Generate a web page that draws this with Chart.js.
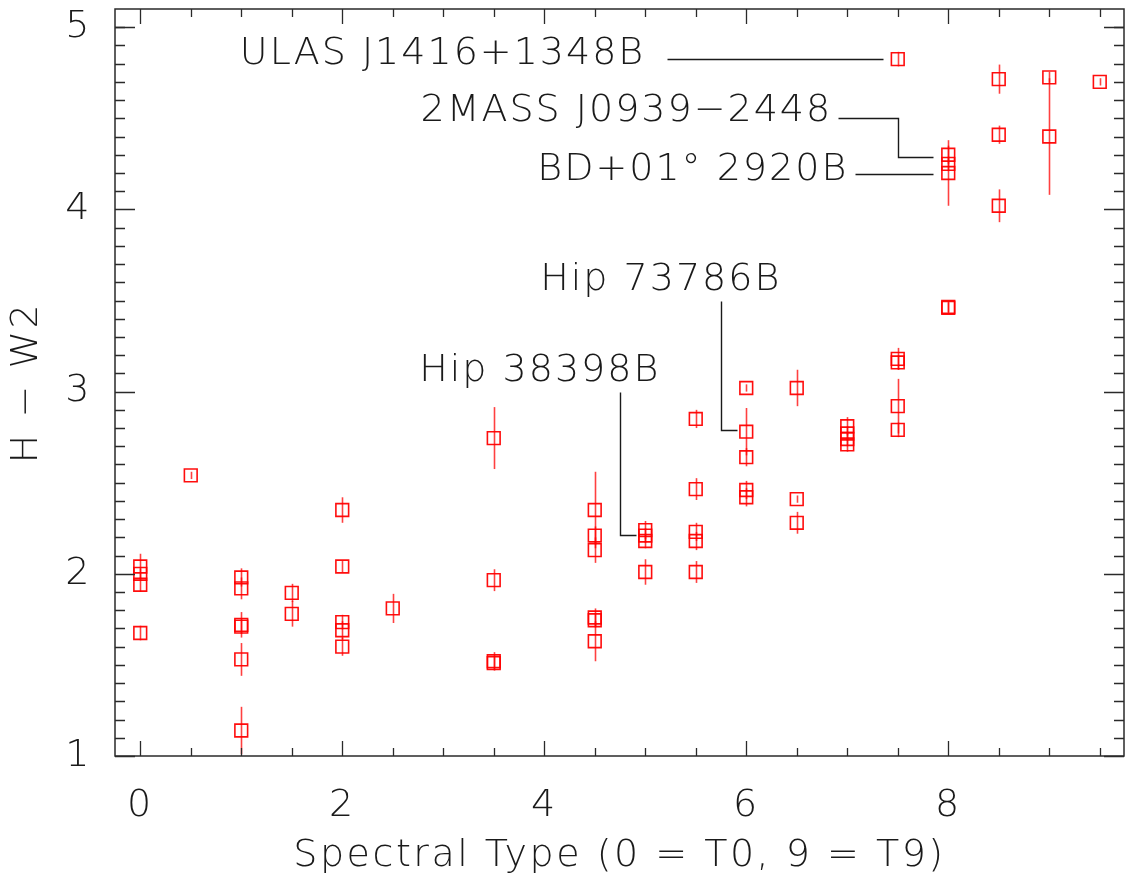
<!DOCTYPE html>
<html>
<head>
<meta charset="utf-8">
<script src="https://cdn.jsdelivr.net/npm/chart.js@4.4.1/dist/chart.umd.min.js"></script>
<style>
  html, body { margin: 0; padding: 0; background: #fff; }
  #cor { display: block; }
</style>
</head>
<body>
<canvas id="cor" width="1125" height="876"></canvas>
<script>
// Tipos espectrais (0 = T0, 9 = T9)
const tipoEspectral = [
  0, 0, 0, 0,
  0.5,
  1, 1, 1, 1, 1, 1,
  1.5, 1.5,
  2, 2, 2, 2, 2,
  2.5,
  3.5, 3.5, 3.5, 3.5,
  4.5, 4.5, 4.5, 4.5, 4.5, 4.5,
  5, 5, 5, 5,
  5.5, 5.5, 5.5, 5.5, 5.5,
  6, 6, 6, 6, 6,
  6.5, 6.5, 6.5,
  7, 7, 7, 7,
  7.5, 7.5, 7.5, 7.5, 7.5,
  8, 8, 8, 8, 8,
  8.5, 8.5, 8.5,
  9, 9,
  9.5
];

// Cor H - W2
const corHW2 = [
  2.04, 2.00, 1.94, 1.675,
  2.54,
  1.98, 1.92, 1.72, 1.71, 1.53, 1.14,
  1.895, 1.78,
  2.35, 2.04, 1.735, 1.69, 1.60,
  1.81,
  2.745, 1.965, 1.52, 1.51,
  2.35, 2.21, 2.13, 1.76, 1.745, 1.63,
  2.24, 2.21, 2.18, 2.01,
  2.85, 2.465, 2.23, 2.18, 2.01,
  3.02, 2.78, 2.64, 2.46, 2.42,
  3.02, 2.41, 2.28,
  2.81, 2.77, 2.74, 2.71,
  4.825, 3.18, 3.16, 2.92, 2.79,
  4.30, 4.25, 4.20, 3.46, 3.465,
  4.715, 4.41, 4.02,
  4.725, 4.40,
  4.70
];

// Incerteza de H - W2
const erroHW2 = [
  0.07, 0.03, 0.04, 0.04,
  0.02,
  0.05, 0.06, 0.07, 0.04, 0.09, 0.13,
  0.05, 0.07,
  0.07, 0.03, 0.04, 0.05, 0.05,
  0.08,
  0.17, 0.06, 0.05, 0.04,
  0.21, 0.05, 0.07, 0.05, 0.04, 0.11,
  0.05, 0.04, 0.04, 0.07,
  0.05, 0.06, 0.05, 0.05, 0.06,
  0.02, 0.13, 0.05, 0.05, 0.05,
  0.10, 0.02, 0.06,
  0.05, 0.04, 0.04, 0.04,
  0.04, 0.06, 0.04, 0.15, 0.04,
  0.05, 0.04, 0.18, 0.03, 0.03,
  0.08, 0.05, 0.09,
  0.03, 0.32,
  0.02
];

// Marcas dos eixos
const ticksX = [0, 2, 4, 6, 8];
const ticksXMenores = [0.5, 1, 1.5, 2.5, 3, 3.5, 4.5, 5, 5.5, 6.5, 7, 7.5, 8.5, 9, 9.5];
const ticksY = [1, 2, 3, 4, 5];
const ticksYMenores = [1.1, 1.2, 1.3, 1.4, 1.5, 1.6, 1.7, 1.8, 1.9,
  2.1, 2.2, 2.3, 2.4, 2.5, 2.6, 2.7, 2.8, 2.9,
  3.1, 3.2, 3.3, 3.4, 3.5, 3.6, 3.7, 3.8, 3.9,
  4.1, 4.2, 4.3, 4.4, 4.5, 4.6, 4.7, 4.8, 4.9, 5.0];

// Objetos identificados: texto, ponto de ancoragem (borda direita do texto) e linha guia
const nomesObjetos = ['ULAS J1416+1348B', '2MASS J0939\u22122448', 'BD+01\u00b0 2920B', 'Hip 73786B', 'Hip 38398B'];
const ancoraNomes = [[5.0, 4.852], [6.851, 4.539], [7.01, 4.215], [6.347, 3.612], [5.149, 3.112]];
const linhasGuia = [
  [[5.218, 4.825], [7.356, 4.825]],
  [[6.911, 4.501], [7.505, 4.501], [7.505, 4.287], [7.851, 4.287]],
  [[7.079, 4.193], [7.851, 4.193]],
  [[5.752, 3.497], [5.752, 2.789], [5.911, 2.789]],
  [[4.752, 2.997], [4.752, 2.213], [4.911, 2.213]]
];

const FONTE = "'DejaVu Sans', sans-serif";
const COR_TEXTO = '#1a1a1a';
const COR_EIXO = '#2a2a2a';

const pontos = tipoEspectral.map((t, i) => ({ x: t, y: corHW2[i] }));

// Barras de erro verticais, desenhadas por baixo dos quadrados
const barrasDeErro = {
  id: 'barrasDeErro',
  beforeDatasetsDraw(chart) {
    const { ctx, chartArea, scales: { x, y } } = chart;
    ctx.save();
    ctx.beginPath();
    ctx.rect(chartArea.left, chartArea.top, chartArea.right - chartArea.left, chartArea.bottom - chartArea.top);
    ctx.clip();
    ctx.strokeStyle = 'rgba(255, 0, 0, 0.75)';
    ctx.lineWidth = 1.6;
    tipoEspectral.forEach((t, i) => {
      const px = Math.round(x.getPixelForValue(t)) + 0.5;
      ctx.beginPath();
      ctx.moveTo(px, y.getPixelForValue(corHW2[i] - erroHW2[i]));
      ctx.lineTo(px, y.getPixelForValue(corHW2[i] + erroHW2[i]));
      ctx.stroke();
    });
    ctx.restore();
  }
};

// Moldura com marcas maiores e menores nos quatro lados
const moldura = {
  id: 'moldura',
  afterDraw(chart) {
    const { ctx, chartArea: a, scales: { x, y } } = chart;
    ctx.save();
    ctx.strokeStyle = COR_EIXO;
    ctx.lineWidth = 1.5;
    ctx.strokeRect(a.left, a.top, a.right - a.left, a.bottom - a.top);
    ctx.lineWidth = 1.3;
    const marcaX = (v, comp) => {
      const px = Math.round(x.getPixelForValue(v)) + 0.5;
      ctx.beginPath();
      ctx.moveTo(px, a.bottom); ctx.lineTo(px, a.bottom - comp);
      ctx.moveTo(px, a.top); ctx.lineTo(px, a.top + comp);
      ctx.stroke();
    };
    const marcaY = (v, comp) => {
      const py = Math.round(y.getPixelForValue(v)) + 0.5;
      ctx.beginPath();
      ctx.moveTo(a.left, py); ctx.lineTo(a.left + comp, py);
      ctx.moveTo(a.right, py); ctx.lineTo(a.right - comp, py);
      ctx.stroke();
    };
    ticksX.forEach(v => marcaX(v, 15));
    ticksXMenores.forEach(v => marcaX(v, 8));
    ticksY.forEach(v => marcaY(v, 20));
    ticksYMenores.forEach(v => marcaY(v, 10));
    ctx.restore();
  }
};

// Nomes dos objetos com as linhas guia
const nomes = {
  id: 'nomes',
  afterDraw(chart) {
    const { ctx, scales: { x, y } } = chart;
    ctx.save();
    ctx.fillStyle = COR_TEXTO;
    ctx.font = `200 38px ${FONTE}`;
    ctx.letterSpacing = '2px';
    ctx.textAlign = 'right';
    ctx.textBaseline = 'middle';
    nomesObjetos.forEach((nome, i) => {
      ctx.fillText(nome, x.getPixelForValue(ancoraNomes[i][0]), y.getPixelForValue(ancoraNomes[i][1]));
    });
    ctx.strokeStyle = COR_TEXTO;
    ctx.lineWidth = 1.4;
    linhasGuia.forEach(linha => {
      ctx.beginPath();
      linha.forEach(([vx, vy], j) => {
        const px = Math.round(x.getPixelForValue(vx)) + 0.5;
        const py = Math.round(y.getPixelForValue(vy)) + 0.5;
        if (j === 0) ctx.moveTo(px, py); else ctx.lineTo(px, py);
      });
      ctx.stroke();
    });
    ctx.restore();
  }
};

// Espaçamento entre letras também nos rótulos dos eixos
const espacamento = {
  id: 'espacamento',
  beforeDraw(chart) {
    chart.ctx.letterSpacing = '2.5px';
  }
};

// Sem folga extra para os rótulos das pontas: a área do gráfico fica fixa
const semFolga = s => {
  s.paddingTop = 0;
  s.paddingBottom = 0;
  s.paddingLeft = 0;
  s.paddingRight = 0;
};

const fonteEixo = { family: FONTE, size: 38, weight: 200 };

const ctx = document.getElementById('cor').getContext('2d');
new Chart(ctx, {
  type: 'scatter',
  data: {
    datasets: [{
      data: pontos,
      pointStyle: 'rect',
      pointRadius: 9,
      pointHoverRadius: 9,
      borderColor: 'rgba(255, 0, 0, 0.95)',
      backgroundColor: 'rgba(0, 0, 0, 0)',
      borderWidth: 1.6
    }]
  },
  options: {
    responsive: false,
    animation: false,
    events: [],
    layout: { autoPadding: false, padding: { top: 9, right: 1, left: 0, bottom: 0 } },
    plugins: {
      legend: { display: false },
      tooltip: { enabled: false }
    },
    scales: {
      x: {
        type: 'linear',
        min: -0.25,
        max: 9.74,
        afterFit: s => { s.height = 120; semFolga(s); },
        afterBuildTicks: s => { s.ticks = ticksX.map(v => ({ value: v })); },
        grid: { display: false },
        border: { display: false },
        ticks: { font: fonteEixo, color: COR_TEXTO, padding: 19, maxRotation: 0 },
        title: {
          display: true,
          text: 'Spectral Type (0 = T0, 9 = T9)',
          font: { ...fonteEixo, lineHeight: 1.05 },
          color: COR_TEXTO,
          padding: { top: 0, bottom: 0 }
        }
      },
      y: {
        type: 'linear',
        min: 1,
        max: 5.1,
        afterFit: s => { s.width = 115; semFolga(s); },
        afterBuildTicks: s => { s.ticks = ticksY.map(v => ({ value: v })); },
        grid: { display: false },
        border: { display: false },
        ticks: { font: fonteEixo, color: COR_TEXTO, padding: 15 },
        title: {
          display: true,
          text: 'H \u2212 W2',
          font: fonteEixo,
          color: COR_TEXTO,
          padding: { top: 4, bottom: 0 }
        }
      }
    }
  },
  plugins: [espacamento, barrasDeErro, moldura, nomes]
});
</script>
</body>
</html>
